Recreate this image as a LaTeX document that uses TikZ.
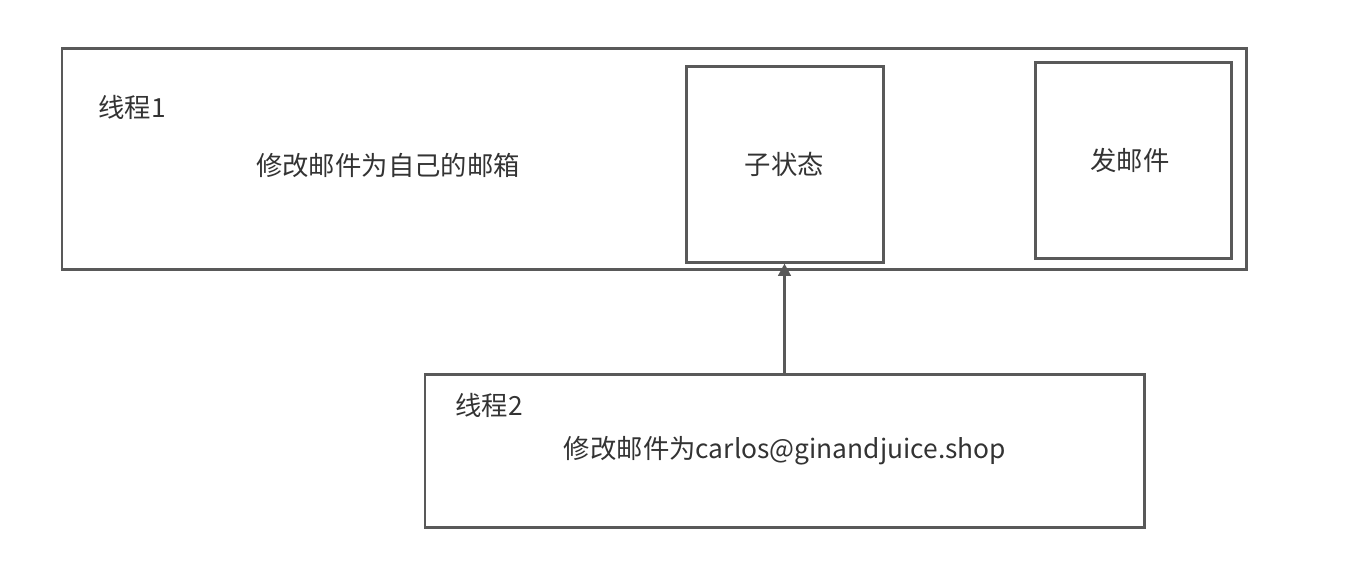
\documentclass[tikz,border=0pt]{standalone}
\usepackage{fontspec}
\setmainfont{Noto Sans CJK SC}
\usepackage{tikz}
\usetikzlibrary{calc,arrows.meta,positioning}
\definecolor{linegray}{HTML}{595959}
\definecolor{textgray}{HTML}{333333}
\begin{document}
\begin{tikzpicture}[x=0.02cm,y=-0.02cm,
	box/.style={draw=linegray,line width=1.7pt},
	txt/.style={text=textgray,font=\fontsize{15}{18}\selectfont,inner sep=0pt}]
		\useasboundingbox (0,0) rectangle (1356,566);
		% thread 1
		\draw[box] (62,48) rectangle (1246,269);
		\node[txt,anchor=west] (t1) at (98,107) {线程1};
		\node[txt] (m1) at (388,165) {修改邮件为自己的邮箱};
		\node[box,minimum width=197*0.02cm,minimum height=196*0.02cm,txt,inner sep=0pt] (sub) at (784.5,164) {子状态};
		\node[box,minimum width=196*0.02cm,minimum height=196*0.02cm,txt,inner sep=0pt] (send) at (1133,160) {};
		\node[txt] (sendt) at (1130,160) {发邮件};
		% thread 2
		\node[box,minimum width=719*0.02cm,minimum height=153*0.02cm] (th2) at (784.5,450.5) {};
		\node[txt,anchor=west] (t2) at (455,405) {线程2};
		\node[txt] (m2) at (785,451) {修改邮件为carlos@ginandjuice.shop};
		\draw[linegray,line width=1.7pt,-{Triangle[length=7pt,width=7pt]}] (th2.north) -- (sub.south);
\end{tikzpicture}
\end{document}
